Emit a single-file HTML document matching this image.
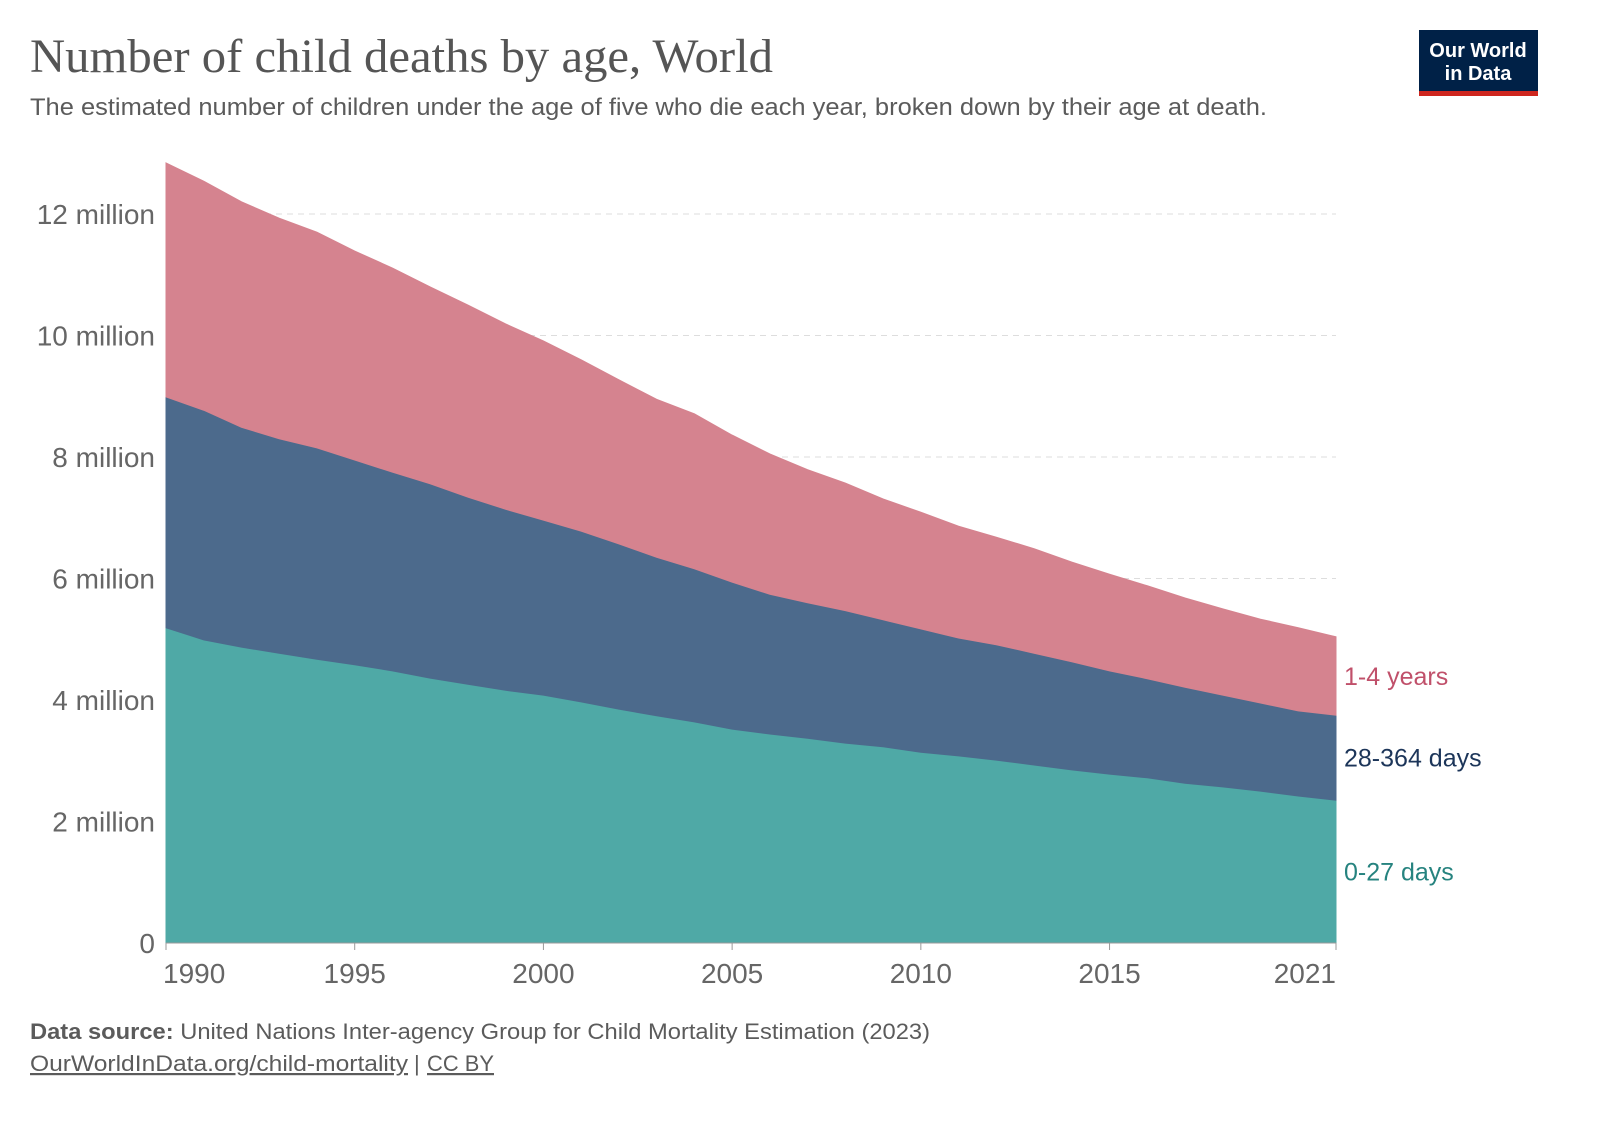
<!DOCTYPE html>
<html><head><meta charset="utf-8">
<style>
body{margin:0;background:#fff;width:1600px;height:1130px;overflow:hidden;font-family:"Liberation Sans",sans-serif}
svg text{font-family:"Liberation Sans",sans-serif}
</style></head>
<body>
<svg id="chart" width="1600" height="1130">
<text x="30" y="72" style="font-family:'Liberation Serif',serif" font-size="48" fill="#555" textLength="743" lengthAdjust="spacingAndGlyphs">Number of child deaths by age, World</text>
<text x="30" y="115" font-size="24" fill="#5b5b5b" textLength="1237" lengthAdjust="spacingAndGlyphs">The estimated number of children under the age of five who die each year, broken down by their age at death.</text>
<g>
<rect x="1419" y="30" width="119" height="62" fill="#002147"/>
<rect x="1419" y="91" width="119" height="5" fill="#ce261e"/>
<text x="1478" y="57" font-size="20" font-weight="bold" fill="#fff" text-anchor="middle">Our World</text>
<text x="1478" y="80" font-size="20" font-weight="bold" fill="#fff" text-anchor="middle">in Data</text>
</g>
<g id="grid"></g>
<g id="areas"></g>
<g id="axes"></g>
<text x="30" y="1039" font-size="22" fill="#5b5b5b" textLength="900" lengthAdjust="spacingAndGlyphs"><tspan font-weight="bold">Data source:</tspan> United Nations Inter-agency Group for Child Mortality Estimation (2023)</text>
<text x="30" y="1071" font-size="22" fill="#5b5b5b" textLength="378" lengthAdjust="spacingAndGlyphs" text-decoration="underline">OurWorldInData.org/child-mortality</text>
<text x="414" y="1071" font-size="22" fill="#5b5b5b">|</text>
<text x="427" y="1071" font-size="22" fill="#5b5b5b" textLength="67" lengthAdjust="spacingAndGlyphs" text-decoration="underline">CC BY</text>
</svg>
<script>
const years=[1990,1991,1992,1993,1994,1995,1996,1997,1998,1999,2000,2001,2002,2003,2004,2005,2006,2007,2008,2009,2010,2011,2012,2013,2014,2015,2016,2017,2018,2019,2020,2021];
const neonatal=[5.19,4.99,4.87,4.77,4.67,4.58,4.48,4.36,4.26,4.16,4.08,3.97,3.85,3.74,3.64,3.52,3.44,3.37,3.29,3.23,3.14,3.08,3.01,2.93,2.85,2.78,2.72,2.63,2.57,2.50,2.42,2.35];
const postneonatal=[3.80,3.78,3.62,3.53,3.48,3.37,3.27,3.20,3.08,2.98,2.88,2.81,2.72,2.61,2.52,2.42,2.30,2.23,2.18,2.09,2.03,1.94,1.90,1.84,1.78,1.70,1.63,1.58,1.51,1.45,1.40,1.40];
const child=[3.85,3.77,3.71,3.63,3.55,3.44,3.36,3.24,3.16,3.05,2.95,2.82,2.70,2.60,2.55,2.42,2.31,2.19,2.10,1.99,1.92,1.84,1.77,1.72,1.64,1.59,1.53,1.47,1.42,1.38,1.37,1.29];
const yTicks=[0,2,4,6,8,10,12];
const yTickLabels=["0","2 million","4 million","6 million","8 million","10 million","12 million"];
const xTicks=[1990,1995,2000,2005,2010,2015,2021];
const NS="http://www.w3.org/2000/svg";
const x=v=>166+(v-1990)*(1336-166)/31;
const y=v=>943-v*60.75;
function mk(t,a,p){const e=document.createElementNS(NS,t);for(const k in a)e.setAttribute(k,a[k]);p.appendChild(e);return e;}
const grid=document.getElementById('grid'),areas=document.getElementById('areas'),axes=document.getElementById('axes');
yTicks.forEach((t,i)=>{
 if(t>0){const l=mk('line',{x1:166,x2:1336,y1:y(t),y2:y(t),stroke:'#ddd','stroke-dasharray':'6,5'},grid);
 
 }
 const tx=mk('text',{x:155,y:y(t)+10,'font-size':28,fill:'#666','text-anchor':'end'},axes);
 tx.textContent=yTickLabels[i];
 
 
});
const series=[
 {vals:neonatal,col:'#4fa9a6',label:'0-27 days',lc:'#26837f',name:'area-0-27-days'},
 {vals:postneonatal,col:'#4c6a8c',label:'28-364 days',lc:'#1c3559',name:'area-28-364-days'},
 {vals:child,col:'#d5838f',label:'1-4 years',lc:'#c0506a',name:'area-1-4-years'}];
let base=years.map(()=>0);
series.forEach(s=>{
 const top=base.map((b,i)=>b+s.vals[i]);
 let d='M'+years.map((yr,i)=>x(yr)+','+y(top[i])).join('L');
 for(let i=years.length-1;i>=0;i--)d+='L'+x(years[i])+','+y(base[i]);
 const p=mk('path',{d:d+'Z',fill:s.col,stroke:s.col,'stroke-width':1},areas);
 
 
 const n=years.length-1,mid=(base[n]+top[n])/2;
 const t=mk('text',{x:1344,y:y(mid)+9,'font-size':25,fill:s.lc},axes);
 t.textContent=s.label;
 
 
 base=top;
});
const ax=mk('line',{x1:166,x2:1336,y1:943,y2:943,stroke:'#999','stroke-width':1},axes);


xTicks.forEach((t,i)=>{
 const tk=mk('line',{x1:x(t),x2:x(t),y1:943,y2:950,stroke:'#999'},axes);
 
 
 const anchor=i==0?'start':(i==xTicks.length-1?'end':'middle');
 const tx=mk('text',{x:i==0?x(t)-3:x(t),y:983,'font-size':28,fill:'#666','text-anchor':anchor},axes);
 tx.textContent=t;
 
 
});
</script>
</body></html>
